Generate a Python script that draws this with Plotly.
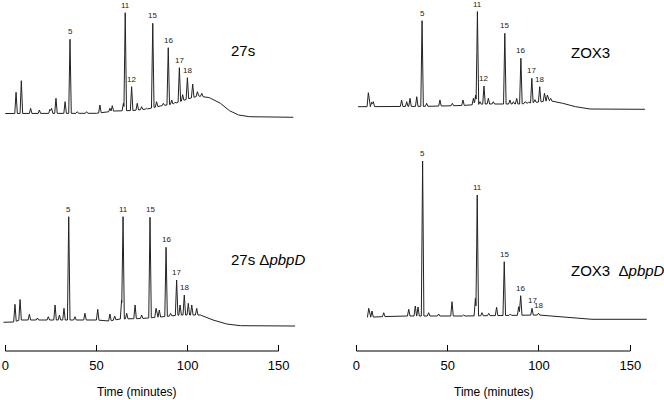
import numpy as np
import plotly.graph_objects as go

W, H = 664, 400

# ---------------- data (time in minutes, detector signal in arbitrary units) ----------------
# Panel A: 27s
a_base_t = [0, 50, 60, 70, 78, 85, 92, 100, 106, 112, 118, 123, 128, 134, 158]
a_base_s = [11.5, 11.7, 14, 14.5, 16, 19, 21, 26, 29, 27.3, 21.7, 14.3, 10, 8.3, 7.7]
a_lab = ["5", "11", "12", "15", "16", "17", "18"]
a_lab_t = [35.5, 65.8, 69.3, 80.9, 89.4, 95.5, 99.9]
a_lab_s = [85.7, 112.3, 38.3, 101.7, 77.3, 57.3, 47.3]
a_min_t = [5.9, 8.8, 13.9, 18.7, 24.5, 25.4, 27.8, 32.8, 39.5, 44.6, 51.9, 57.4, 58.7,
           64.8, 72.4, 74.8, 77.5, 83.0, 86.7, 91.3, 93.1, 97.3, 102.8, 105.4, 107.8]
a_min_s = [32.7, 44.3, 16.7, 15, 15.7, 16.7, 26.7, 23.3, 13.3, 13.3, 20, 16.7, 19.3,
           21.7, 21.7, 18.3, 16.7, 23.3, 21.7, 25, 22.7, 30.3, 41, 33.3, 31.7]

# Panel B: ZOX3
b_base_t = [1, 20, 40, 58, 70, 90, 100, 106, 113, 120, 128, 158]
b_base_s = [18.3, 18.5, 18.7, 19.5, 21, 21, 23, 24.3, 21.7, 18.3, 16, 15.7]
b_lab = ["5", "11", "12", "15", "16", "17", "18"]
b_lab_t = [36.0, 66.3, 69.9, 81.3, 90.1, 96.1, 100.4]
b_lab_s = [104.3, 113.5, 39, 91.7, 66.7, 46.7, 38.3]
b_min_t = [6.6, 8.4, 9.3, 24.8, 27.6, 29.4, 33.1, 38.5, 45.8, 52.6, 58.4, 64.1, 65.3,
           67.7, 72.3, 75.0, 84.1, 86.0, 87.8, 92.4, 94.2, 97.8, 103.0, 104.6, 106.4]
b_min_s = [32.3, 22.7, 23.3, 25, 23.3, 26.7, 28.3, 21.7, 25, 21.7, 25, 26.7, 30,
           23.3, 26.7, 23.3, 25, 23.3, 26.7, 23.3, 22.7, 25.3, 31.7, 30, 26.7]

# Panel C: 27s ΔpbpD
c_base_t = [-1, 4, 8, 50, 57, 63, 75, 85, 96, 107, 114, 121.5, 129, 159]
c_base_s = [28.7, 28.7, 31, 31, 30, 32, 32.5, 34, 36, 36, 31, 27, 25.3, 25]
c_lab = ["5", "11", "15", "16", "17", "18"]
c_lab_t = [34.8, 64.6, 79.4, 88.2, 94.0, 98.2]
c_lab_s = [134.3, 134.3, 133.7, 103.7, 71, 56]
c_min_t = [5.3, 8.1, 13.2, 17.6, 23.6, 27.3, 29.7, 32.2, 38.2, 43.7, 50.7, 57.4, 60.0,
           63.8, 66.6, 71.2, 74.8, 82.7, 84.5, 90.7, 95.9, 100.4, 102.3, 105.0]
c_min_s = [46.7, 51.5, 36.7, 33, 34.3, 46, 36, 42.7, 34.3, 37.7, 41.7, 37, 35,
           51, 37.7, 46, 36, 42.7, 41, 37.7, 46, 47.7, 46, 42.7]

# Panel D: ZOX3 ΔpbpD
d_base_t = [6, 23, 60, 100, 110.8, 118, 129, 159]
d_base_s = [33.7, 35, 35, 36, 34.3, 32.7, 31.7, 31.7]
d_lab = ["5", "11", "15", "16", "17", "18"]
d_lab_t = [36.3, 66.2, 81.0, 90.0, 96.2, 99.8]
d_lab_s = [190, 156, 89.3, 55.3, 42.7, 37.7]
d_min_t = [6.8, 8.6, 15.0, 28.7, 32.3, 33.8, 39.6, 45.1, 52.4, 58.8, 65.2, 68.8,
           72.5, 76.8, 84.3, 88.9]
d_min_s = [42.7, 40, 38.3, 41.7, 45, 44, 38.3, 37, 49.3, 36, 52.7, 38.3,
           37.7, 43.7, 37, 44.3]

names = ["27s", "ZOX3", "27s Δ<i>pbpD</i>", "ZOX3\u00a0 Δ<i>pbpD</i>"]
x_ticks = [0, 50, 100, 150]
x_title = "Time (minutes)"

# ---------------- helpers ----------------
HW = 0.7  # half base width of a peak (minutes), rendering only


def trace_xy(bt, bs, pt, ps):
    bt = np.asarray(bt, float); bs = np.asarray(bs, float)
    pt = np.asarray(pt, float); ps = np.asarray(ps, float)
    h = ps - np.interp(pt, bt, bs)
    xs = np.unique(np.concatenate([bt, pt, pt - HW, pt + HW]))
    xs = xs[(xs >= bt[0]) & (xs <= bt[-1])]
    ys = np.interp(xs, bt, bs)
    for t, hh in zip(pt, h):
        ys = ys + hh * np.clip(1 - np.abs(xs - t) / HW, 0, None)
    return xs.tolist(), ys.tolist()


def px(xp):
    return xp / W


def py(yp):
    return 1 - yp / H


panels = [
    (a_base_t, a_base_s, a_lab, a_lab_t, a_lab_s, a_min_t, a_min_s),
    (b_base_t, b_base_s, b_lab, b_lab_t, b_lab_s, b_min_t, b_min_s),
    (c_base_t, c_base_s, c_lab, c_lab_t, c_lab_s, c_min_t, c_min_s),
    (d_base_t, d_base_s, d_lab, d_lab_t, d_lab_s, d_min_t, d_min_s),
]

fig = go.Figure()
ann = []
FONT = "Arial, Liberation Sans, Helvetica, sans-serif"
LINE = "#222222"

for i, (bt, bs, lab, lt, ls, mt, ms) in enumerate(panels):
    k = "" if i == 0 else str(i + 1)
    xs, ys = trace_xy(bt, bs, list(lt) + list(mt), list(ls) + list(ms))
    fig.add_trace(go.Scatter(x=xs, y=ys, mode="lines", line=dict(color=LINE, width=1),
                             xaxis="x" + k, yaxis="y" + k, hoverinfo="skip", showlegend=False))
    for name, t, s in zip(lab, lt, ls):
        ann.append(dict(x=t, y=s, xref="x" + k, yref="y" + k, text=name, showarrow=False,
                        yanchor="bottom", xanchor="center", yshift=1,
                        font=dict(size=8, color="#222", family=FONT)))

# x domains: left 0 min at 5.3 px (1.8227 px/min), right 0 min at 356.3 px (1.8267 px/min)
XR = [-2.5, 162]
left_dom = [px(5.3 + XR[0] * 1.8227), px(5.3 + XR[1] * 1.8227)]
right_dom = [px(356.3 + XR[0] * 1.8267), px(356.3 + XR[1] * 1.8267)]
top_dom = [py(125), py(0)]
bot_dom = [py(355), py(150)]

hidden = dict(visible=False, showgrid=False, zeroline=False)
bottom_x = dict(range=XR, showgrid=False, zeroline=False, showline=False,
                ticks="inside", ticklen=6, tickwidth=1, tickcolor="black",
                tickvals=x_ticks, ticktext=[str(v) for v in x_ticks],
                tickfont=dict(size=13, color="black", family=FONT),
                ticklabelstandoff=5,
                anchor="free", position=py(351))

fig.update_layout(
    width=W, height=H, margin=dict(l=0, r=0, t=0, b=0),
    paper_bgcolor="white", plot_bgcolor="rgba(0,0,0,0)",
    showlegend=False,
    xaxis=dict(domain=left_dom, range=XR, anchor="y", **hidden),
    yaxis=dict(domain=top_dom, range=[0, 125], anchor="x", **hidden),
    xaxis2=dict(domain=right_dom, range=XR, anchor="y2", **hidden),
    yaxis2=dict(domain=top_dom, range=[0, 125], anchor="x2", **hidden),
    xaxis3=dict(domain=left_dom, **bottom_x),
    yaxis3=dict(domain=bot_dom, range=[-4, 201], anchor="x3", **hidden),
    xaxis4=dict(domain=right_dom, **bottom_x),
    yaxis4=dict(domain=bot_dom, range=[-4, 201], anchor="x4", **hidden),
)

shapes = []
for k in ["3", "4"]:
    shapes.append(dict(type="line", xref="x" + k, yref="y" + k, x0=0, x1=150, y0=0, y1=0,
                       line=dict(color="black", width=1)))
fig.update_layout(shapes=shapes)

# sample names
for name, xl, yc in zip(names, [229, 569, 229, 569], [50, 52, 259, 270]):
    ann.append(dict(x=px(xl), y=py(yc), xref="paper", yref="paper", text=name, showarrow=False,
                    xanchor="left", yanchor="middle", font=dict(size=15, color="black", family=FONT)))
# axis titles
for xc in [136.7, 493.7]:
    ann.append(dict(x=px(xc), y=py(392), xref="paper", yref="paper", text=x_title, showarrow=False,
                    xanchor="center", yanchor="middle", font=dict(size=12, color="black", family=FONT)))

fig.update_layout(annotations=ann)
fig.write_html("out.html", config={"displayModeBar": False},
               post_script="document.body.style.margin='0';document.body.style.overflow='hidden';")
